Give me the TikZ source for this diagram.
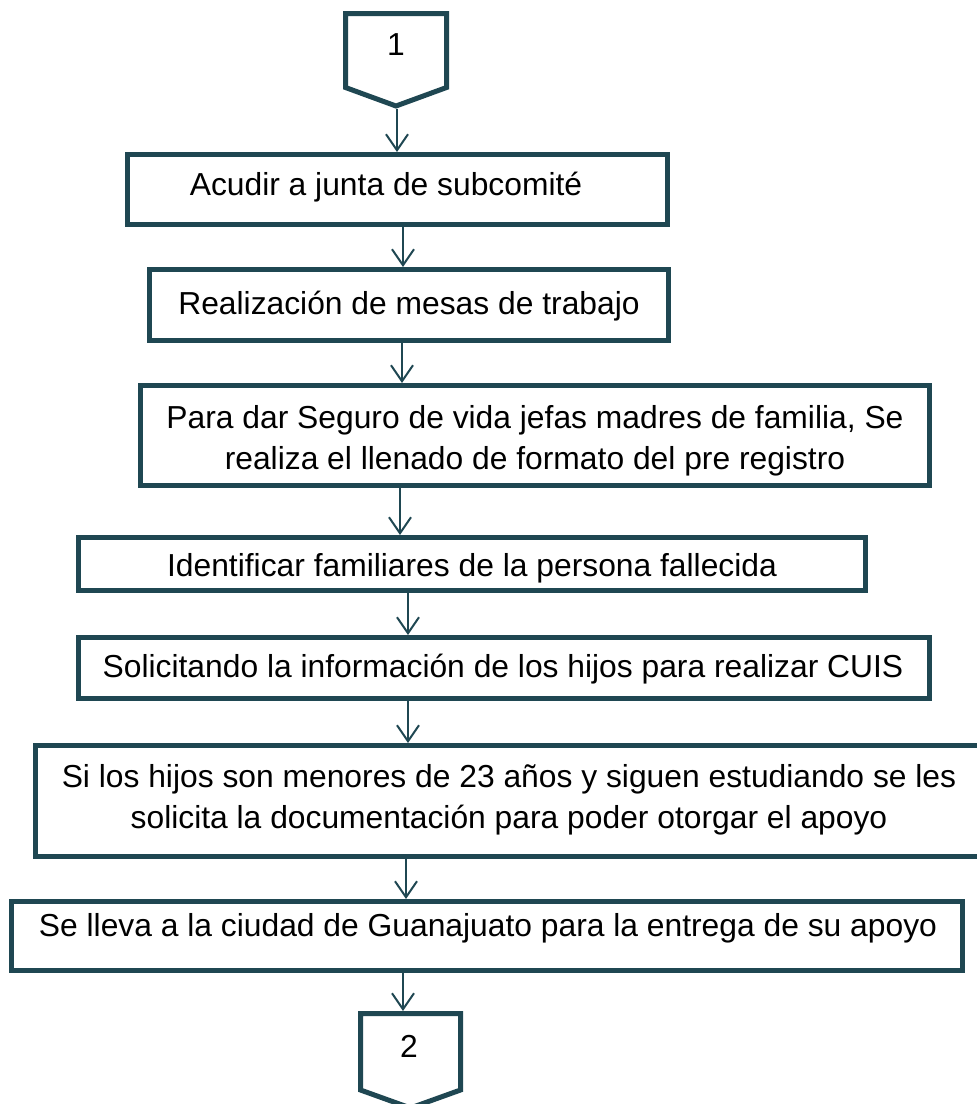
\documentclass[tikz,border=0pt]{standalone}
\usepackage{fontspec}
\setmainfont{Liberation Sans}
\usetikzlibrary{arrows.meta}
\definecolor{teal1}{RGB}{31,71,82}
\begin{document}
\begin{tikzpicture}[x=1pt,y=-1pt,
  box/.style={draw=teal1, line width=5pt, fill=white, inner sep=0pt, rectangle},
  txt/.style={inner sep=0pt, font=\fontsize{31.8}{41}\selectfont, text=black, align=center},
  arr/.style={draw=teal1, line width=2pt, -{Straight Barb[length=16pt,width=22pt]}},
  pent/.style={draw=teal1, line width=5pt, line join=miter, fill=white}]
\useasboundingbox (0,0) rectangle (977,1104);
\clip (0,0) rectangle (977,1104);

% connector pentagon 1
\draw[pent] (345.5,13.5) -- (446.5,13.5) -- (446.5,87.5) -- (396,106) -- (345.5,87.5) -- cycle;
\node[txt, anchor=base] (p1) at (396,55) {1};
\coordinate (p1tip) at (397,109);

% boxes
\node[box, minimum width=540pt, minimum height=70pt] (b1) at (397.5,189.5) {};
\node[box, minimum width=519pt, minimum height=71pt] (b2) at (409,305) {};
\node[box, minimum width=789pt, minimum height=100pt] (b3) at (535,435.5) {};
\node[box, minimum width=787pt, minimum height=53pt] (b4) at (472,564) {};
\node[box, minimum width=851pt, minimum height=61pt] (b5) at (504,668) {};
\node[box, minimum width=947pt, minimum height=111pt] (b6) at (509,801) {};
\node[box, minimum width=951pt, minimum height=69pt] (b7) at (487,936) {};

% texts
\node[txt, anchor=base] (t1) at (386,195) {Acudir a junta de subcomité};
\node[txt, anchor=base] (t2) at (409,314) {Realización de mesas de trabajo};
\node[txt] (t3) at (535,441) {Para dar Seguro de vida jefas madres de familia, Se\\realiza el llenado de formato del pre registro};
\node[txt, anchor=base] (t4) at (472,576) {Identificar familiares de la persona fallecida};
\node[txt, anchor=base] (t5) at (503,677) {Solicitando la información de los hijos para realizar CUIS};
\node[txt] (t6) at (509,799.5) {Si los hijos son menores de 23 años y siguen estudiando se les\\solicita la documentación para poder otorgar el apoyo};
\node[txt, anchor=base] (t7) at (488,936) {Se lleva a la ciudad de Guanajuato para la entrega de su apoyo};

% connector pentagon 2
\draw[pent] (360.5,1013.5) -- (460.5,1013.5) -- (460.5,1090) -- (410.5,1108) -- (360.5,1090) -- cycle;
\node[txt, anchor=base] (p2) at (409,1057) {2};
\coordinate (p2top) at (403,1011);

% arrows
\coordinate (x2) at (403,0);
\coordinate (x3) at (402,0);
\coordinate (x4) at (400,0);
\coordinate (x5) at (408,0);
\coordinate (x6) at (408,0);
\coordinate (x7) at (406,0);
\coordinate (x8) at (403,0);
\draw[arr] (p1tip) -- (p1tip |- b1.north);
\draw[arr] (b1.south -| x2) -- (b2.north -| x2);
\draw[arr] (b2.south -| x3) -- (b3.north -| x3);
\draw[arr] (b3.south -| x4) -- (b4.north -| x4);
\draw[arr] (b4.south -| x5) -- (b5.north -| x5);
\draw[arr] (b5.south -| x6) -- (b6.north -| x6);
\draw[arr] (b6.south -| x7) -- (b7.north -| x7);
\draw[arr] (b7.south -| x8) -- (p2top);
\end{tikzpicture}
\end{document}
